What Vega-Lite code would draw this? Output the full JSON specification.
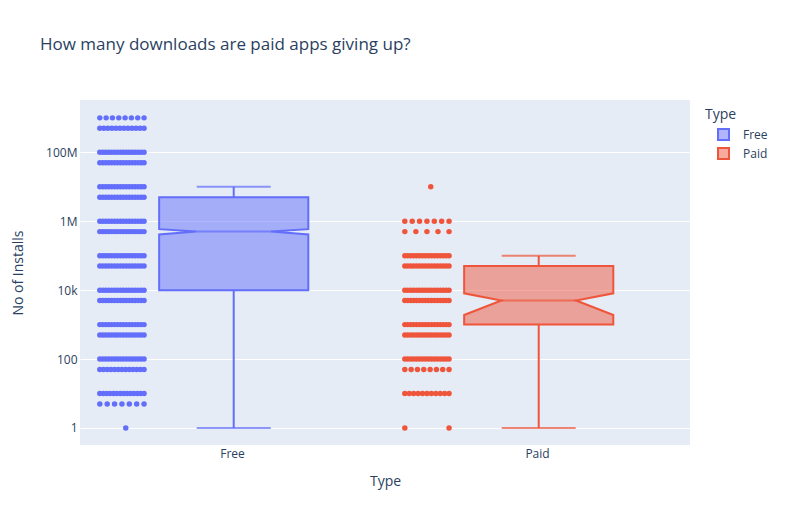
{
  "$schema": "https://vega.github.io/schema/vega-lite/v6.json",
  "width": 610,
  "height": 345,
  "autosize": {"type": "none"},
  "padding": {"left": 80, "top": 100, "right": 96, "bottom": 80},
  "background": "white",
  "title": {"text": "How many downloads are paid apps giving up?", "anchor": "start", "frame": "group", "dx": -40, "offset": 46, "fontSize": 17, "fontWeight": "normal", "color": "#2a3f5f", "font": "Open Sans"},
  "datasets": {
    "stats": [
      {"Type": "Free", "lowerfence": 1, "q1": 10000, "notchlo": 415000, "median": 500000, "notchhi": 590000, "q3": 5000000, "upperfence": 10000000},
      {"Type": "Paid", "lowerfence": 1, "q1": 1000, "notchlo": 1900, "median": 5000, "notchhi": 8100, "q3": 50000, "upperfence": 100000}
    ],
    "apps": [
      {"Type":"Free","Installs":1000000000},{"Type":"Free","Installs":1000000000},{"Type":"Free","Installs":1000000000},{"Type":"Free","Installs":1000000000},{"Type":"Free","Installs":1000000000},{"Type":"Free","Installs":1000000000},{"Type":"Free","Installs":1000000000},{"Type":"Free","Installs":1000000000},
      {"Type":"Free","Installs":500000000},{"Type":"Free","Installs":500000000},{"Type":"Free","Installs":500000000},{"Type":"Free","Installs":500000000},{"Type":"Free","Installs":500000000},{"Type":"Free","Installs":500000000},{"Type":"Free","Installs":500000000},{"Type":"Free","Installs":500000000},{"Type":"Free","Installs":500000000},{"Type":"Free","Installs":500000000},{"Type":"Free","Installs":500000000},{"Type":"Free","Installs":500000000},
      {"Type":"Free","Installs":100000000},{"Type":"Free","Installs":100000000},{"Type":"Free","Installs":100000000},{"Type":"Free","Installs":100000000},{"Type":"Free","Installs":100000000},{"Type":"Free","Installs":100000000},{"Type":"Free","Installs":100000000},{"Type":"Free","Installs":100000000},{"Type":"Free","Installs":100000000},{"Type":"Free","Installs":100000000},{"Type":"Free","Installs":100000000},{"Type":"Free","Installs":100000000},{"Type":"Free","Installs":100000000},{"Type":"Free","Installs":100000000},{"Type":"Free","Installs":100000000},{"Type":"Free","Installs":100000000},
      {"Type":"Free","Installs":50000000},{"Type":"Free","Installs":50000000},{"Type":"Free","Installs":50000000},{"Type":"Free","Installs":50000000},{"Type":"Free","Installs":50000000},{"Type":"Free","Installs":50000000},{"Type":"Free","Installs":50000000},{"Type":"Free","Installs":50000000},{"Type":"Free","Installs":50000000},{"Type":"Free","Installs":50000000},{"Type":"Free","Installs":50000000},{"Type":"Free","Installs":50000000},{"Type":"Free","Installs":50000000},{"Type":"Free","Installs":50000000},{"Type":"Free","Installs":50000000},{"Type":"Free","Installs":50000000},
      {"Type":"Free","Installs":10000000},{"Type":"Free","Installs":10000000},{"Type":"Free","Installs":10000000},{"Type":"Free","Installs":10000000},{"Type":"Free","Installs":10000000},{"Type":"Free","Installs":10000000},{"Type":"Free","Installs":10000000},{"Type":"Free","Installs":10000000},{"Type":"Free","Installs":10000000},{"Type":"Free","Installs":10000000},{"Type":"Free","Installs":10000000},{"Type":"Free","Installs":10000000},{"Type":"Free","Installs":10000000},{"Type":"Free","Installs":10000000},{"Type":"Free","Installs":10000000},{"Type":"Free","Installs":10000000},
      {"Type":"Free","Installs":5000000},{"Type":"Free","Installs":5000000},{"Type":"Free","Installs":5000000},{"Type":"Free","Installs":5000000},{"Type":"Free","Installs":5000000},{"Type":"Free","Installs":5000000},{"Type":"Free","Installs":5000000},{"Type":"Free","Installs":5000000},{"Type":"Free","Installs":5000000},{"Type":"Free","Installs":5000000},{"Type":"Free","Installs":5000000},{"Type":"Free","Installs":5000000},{"Type":"Free","Installs":5000000},{"Type":"Free","Installs":5000000},{"Type":"Free","Installs":5000000},{"Type":"Free","Installs":5000000},
      {"Type":"Free","Installs":1000000},{"Type":"Free","Installs":1000000},{"Type":"Free","Installs":1000000},{"Type":"Free","Installs":1000000},{"Type":"Free","Installs":1000000},{"Type":"Free","Installs":1000000},{"Type":"Free","Installs":1000000},{"Type":"Free","Installs":1000000},{"Type":"Free","Installs":1000000},{"Type":"Free","Installs":1000000},{"Type":"Free","Installs":1000000},{"Type":"Free","Installs":1000000},{"Type":"Free","Installs":1000000},{"Type":"Free","Installs":1000000},{"Type":"Free","Installs":1000000},{"Type":"Free","Installs":1000000},
      {"Type":"Free","Installs":500000},{"Type":"Free","Installs":500000},{"Type":"Free","Installs":500000},{"Type":"Free","Installs":500000},{"Type":"Free","Installs":500000},{"Type":"Free","Installs":500000},{"Type":"Free","Installs":500000},{"Type":"Free","Installs":500000},{"Type":"Free","Installs":500000},{"Type":"Free","Installs":500000},{"Type":"Free","Installs":500000},{"Type":"Free","Installs":500000},{"Type":"Free","Installs":500000},{"Type":"Free","Installs":500000},{"Type":"Free","Installs":500000},{"Type":"Free","Installs":500000},
      {"Type":"Free","Installs":100000},{"Type":"Free","Installs":100000},{"Type":"Free","Installs":100000},{"Type":"Free","Installs":100000},{"Type":"Free","Installs":100000},{"Type":"Free","Installs":100000},{"Type":"Free","Installs":100000},{"Type":"Free","Installs":100000},{"Type":"Free","Installs":100000},{"Type":"Free","Installs":100000},{"Type":"Free","Installs":100000},{"Type":"Free","Installs":100000},{"Type":"Free","Installs":100000},{"Type":"Free","Installs":100000},{"Type":"Free","Installs":100000},{"Type":"Free","Installs":100000},
      {"Type":"Free","Installs":50000},{"Type":"Free","Installs":50000},{"Type":"Free","Installs":50000},{"Type":"Free","Installs":50000},{"Type":"Free","Installs":50000},{"Type":"Free","Installs":50000},{"Type":"Free","Installs":50000},{"Type":"Free","Installs":50000},{"Type":"Free","Installs":50000},{"Type":"Free","Installs":50000},{"Type":"Free","Installs":50000},{"Type":"Free","Installs":50000},{"Type":"Free","Installs":50000},{"Type":"Free","Installs":50000},{"Type":"Free","Installs":50000},{"Type":"Free","Installs":50000},
      {"Type":"Free","Installs":10000},{"Type":"Free","Installs":10000},{"Type":"Free","Installs":10000},{"Type":"Free","Installs":10000},{"Type":"Free","Installs":10000},{"Type":"Free","Installs":10000},{"Type":"Free","Installs":10000},{"Type":"Free","Installs":10000},{"Type":"Free","Installs":10000},{"Type":"Free","Installs":10000},{"Type":"Free","Installs":10000},{"Type":"Free","Installs":10000},{"Type":"Free","Installs":10000},{"Type":"Free","Installs":10000},{"Type":"Free","Installs":10000},{"Type":"Free","Installs":10000},
      {"Type":"Free","Installs":5000},{"Type":"Free","Installs":5000},{"Type":"Free","Installs":5000},{"Type":"Free","Installs":5000},{"Type":"Free","Installs":5000},{"Type":"Free","Installs":5000},{"Type":"Free","Installs":5000},{"Type":"Free","Installs":5000},{"Type":"Free","Installs":5000},{"Type":"Free","Installs":5000},{"Type":"Free","Installs":5000},{"Type":"Free","Installs":5000},{"Type":"Free","Installs":5000},{"Type":"Free","Installs":5000},{"Type":"Free","Installs":5000},{"Type":"Free","Installs":5000},
      {"Type":"Free","Installs":1000},{"Type":"Free","Installs":1000},{"Type":"Free","Installs":1000},{"Type":"Free","Installs":1000},{"Type":"Free","Installs":1000},{"Type":"Free","Installs":1000},{"Type":"Free","Installs":1000},{"Type":"Free","Installs":1000},{"Type":"Free","Installs":1000},{"Type":"Free","Installs":1000},{"Type":"Free","Installs":1000},{"Type":"Free","Installs":1000},{"Type":"Free","Installs":1000},{"Type":"Free","Installs":1000},{"Type":"Free","Installs":1000},{"Type":"Free","Installs":1000},
      {"Type":"Free","Installs":500},{"Type":"Free","Installs":500},{"Type":"Free","Installs":500},{"Type":"Free","Installs":500},{"Type":"Free","Installs":500},{"Type":"Free","Installs":500},{"Type":"Free","Installs":500},{"Type":"Free","Installs":500},{"Type":"Free","Installs":500},{"Type":"Free","Installs":500},{"Type":"Free","Installs":500},{"Type":"Free","Installs":500},{"Type":"Free","Installs":500},{"Type":"Free","Installs":500},{"Type":"Free","Installs":500},{"Type":"Free","Installs":500},
      {"Type":"Free","Installs":100},{"Type":"Free","Installs":100},{"Type":"Free","Installs":100},{"Type":"Free","Installs":100},{"Type":"Free","Installs":100},{"Type":"Free","Installs":100},{"Type":"Free","Installs":100},{"Type":"Free","Installs":100},{"Type":"Free","Installs":100},{"Type":"Free","Installs":100},{"Type":"Free","Installs":100},{"Type":"Free","Installs":100},{"Type":"Free","Installs":100},{"Type":"Free","Installs":100},{"Type":"Free","Installs":100},{"Type":"Free","Installs":100},
      {"Type":"Free","Installs":50},{"Type":"Free","Installs":50},{"Type":"Free","Installs":50},{"Type":"Free","Installs":50},{"Type":"Free","Installs":50},{"Type":"Free","Installs":50},{"Type":"Free","Installs":50},{"Type":"Free","Installs":50},{"Type":"Free","Installs":50},{"Type":"Free","Installs":50},{"Type":"Free","Installs":50},{"Type":"Free","Installs":50},{"Type":"Free","Installs":50},
      {"Type":"Free","Installs":10},{"Type":"Free","Installs":10},{"Type":"Free","Installs":10},{"Type":"Free","Installs":10},{"Type":"Free","Installs":10},{"Type":"Free","Installs":10},{"Type":"Free","Installs":10},{"Type":"Free","Installs":10},{"Type":"Free","Installs":10},{"Type":"Free","Installs":10},{"Type":"Free","Installs":10},{"Type":"Free","Installs":10},{"Type":"Free","Installs":10},{"Type":"Free","Installs":10},
      {"Type":"Free","Installs":5},{"Type":"Free","Installs":5},{"Type":"Free","Installs":5},{"Type":"Free","Installs":5},{"Type":"Free","Installs":5},{"Type":"Free","Installs":5},{"Type":"Free","Installs":5},
      {"Type":"Free","Installs":1},
      {"Type":"Paid","Installs":10000000},
      {"Type":"Paid","Installs":1000000},{"Type":"Paid","Installs":1000000},{"Type":"Paid","Installs":1000000},{"Type":"Paid","Installs":1000000},{"Type":"Paid","Installs":1000000},{"Type":"Paid","Installs":1000000},{"Type":"Paid","Installs":1000000},
      {"Type":"Paid","Installs":500000},{"Type":"Paid","Installs":500000},{"Type":"Paid","Installs":500000},{"Type":"Paid","Installs":500000},{"Type":"Paid","Installs":500000},
      {"Type":"Paid","Installs":100000},{"Type":"Paid","Installs":100000},{"Type":"Paid","Installs":100000},{"Type":"Paid","Installs":100000},{"Type":"Paid","Installs":100000},{"Type":"Paid","Installs":100000},{"Type":"Paid","Installs":100000},{"Type":"Paid","Installs":100000},{"Type":"Paid","Installs":100000},{"Type":"Paid","Installs":100000},{"Type":"Paid","Installs":100000},{"Type":"Paid","Installs":100000},{"Type":"Paid","Installs":100000},{"Type":"Paid","Installs":100000},{"Type":"Paid","Installs":100000},{"Type":"Paid","Installs":100000},
      {"Type":"Paid","Installs":50000},{"Type":"Paid","Installs":50000},{"Type":"Paid","Installs":50000},{"Type":"Paid","Installs":50000},{"Type":"Paid","Installs":50000},{"Type":"Paid","Installs":50000},{"Type":"Paid","Installs":50000},{"Type":"Paid","Installs":50000},{"Type":"Paid","Installs":50000},{"Type":"Paid","Installs":50000},{"Type":"Paid","Installs":50000},{"Type":"Paid","Installs":50000},{"Type":"Paid","Installs":50000},{"Type":"Paid","Installs":50000},{"Type":"Paid","Installs":50000},{"Type":"Paid","Installs":50000},
      {"Type":"Paid","Installs":10000},{"Type":"Paid","Installs":10000},{"Type":"Paid","Installs":10000},{"Type":"Paid","Installs":10000},{"Type":"Paid","Installs":10000},{"Type":"Paid","Installs":10000},{"Type":"Paid","Installs":10000},{"Type":"Paid","Installs":10000},{"Type":"Paid","Installs":10000},{"Type":"Paid","Installs":10000},{"Type":"Paid","Installs":10000},{"Type":"Paid","Installs":10000},{"Type":"Paid","Installs":10000},{"Type":"Paid","Installs":10000},{"Type":"Paid","Installs":10000},{"Type":"Paid","Installs":10000},
      {"Type":"Paid","Installs":5000},{"Type":"Paid","Installs":5000},{"Type":"Paid","Installs":5000},{"Type":"Paid","Installs":5000},{"Type":"Paid","Installs":5000},{"Type":"Paid","Installs":5000},{"Type":"Paid","Installs":5000},{"Type":"Paid","Installs":5000},{"Type":"Paid","Installs":5000},{"Type":"Paid","Installs":5000},{"Type":"Paid","Installs":5000},{"Type":"Paid","Installs":5000},{"Type":"Paid","Installs":5000},{"Type":"Paid","Installs":5000},{"Type":"Paid","Installs":5000},{"Type":"Paid","Installs":5000},
      {"Type":"Paid","Installs":1000},{"Type":"Paid","Installs":1000},{"Type":"Paid","Installs":1000},{"Type":"Paid","Installs":1000},{"Type":"Paid","Installs":1000},{"Type":"Paid","Installs":1000},{"Type":"Paid","Installs":1000},{"Type":"Paid","Installs":1000},{"Type":"Paid","Installs":1000},{"Type":"Paid","Installs":1000},{"Type":"Paid","Installs":1000},{"Type":"Paid","Installs":1000},{"Type":"Paid","Installs":1000},{"Type":"Paid","Installs":1000},{"Type":"Paid","Installs":1000},{"Type":"Paid","Installs":1000},
      {"Type":"Paid","Installs":500},{"Type":"Paid","Installs":500},{"Type":"Paid","Installs":500},{"Type":"Paid","Installs":500},{"Type":"Paid","Installs":500},{"Type":"Paid","Installs":500},{"Type":"Paid","Installs":500},{"Type":"Paid","Installs":500},{"Type":"Paid","Installs":500},{"Type":"Paid","Installs":500},{"Type":"Paid","Installs":500},{"Type":"Paid","Installs":500},{"Type":"Paid","Installs":500},{"Type":"Paid","Installs":500},{"Type":"Paid","Installs":500},{"Type":"Paid","Installs":500},
      {"Type":"Paid","Installs":100},{"Type":"Paid","Installs":100},{"Type":"Paid","Installs":100},{"Type":"Paid","Installs":100},{"Type":"Paid","Installs":100},{"Type":"Paid","Installs":100},{"Type":"Paid","Installs":100},{"Type":"Paid","Installs":100},{"Type":"Paid","Installs":100},{"Type":"Paid","Installs":100},{"Type":"Paid","Installs":100},{"Type":"Paid","Installs":100},{"Type":"Paid","Installs":100},{"Type":"Paid","Installs":100},{"Type":"Paid","Installs":100},{"Type":"Paid","Installs":100},
      {"Type":"Paid","Installs":50},{"Type":"Paid","Installs":50},{"Type":"Paid","Installs":50},{"Type":"Paid","Installs":50},{"Type":"Paid","Installs":50},{"Type":"Paid","Installs":50},{"Type":"Paid","Installs":50},{"Type":"Paid","Installs":50},
      {"Type":"Paid","Installs":10},{"Type":"Paid","Installs":10},{"Type":"Paid","Installs":10},{"Type":"Paid","Installs":10},{"Type":"Paid","Installs":10},{"Type":"Paid","Installs":10},{"Type":"Paid","Installs":10},{"Type":"Paid","Installs":10},{"Type":"Paid","Installs":10},{"Type":"Paid","Installs":10},{"Type":"Paid","Installs":10},
      {"Type":"Paid","Installs":1},{"Type":"Paid","Installs":1}
    ]
  },
  "encoding": {
    "x": {"field": "Type", "type": "nominal", "title": "Type",
      "scale": {"type": "band", "domain": ["Free", "Paid"], "paddingInner": 0, "paddingOuter": 0},
      "axis": {"labelAngle": 0, "grid": false, "labelPadding": 3, "titlePadding": 15}}
  },
  "layer": [
    {
      "data": {"name": "apps"},
      "transform": [
        {"window": [{"op": "row_number", "as": "r"}], "groupby": ["Type", "Installs"]},
        {"joinaggregate": [{"op": "count", "as": "n"}], "groupby": ["Type", "Installs"]},
        {"calculate": "datum.n > 1 ? -0.87 + 0.29 * (datum.r - 1) / (datum.n - 1) : -0.7", "as": "jit"}
      ],
      "mark": {"type": "point", "filled": true, "size": 30, "opacity": 1},
      "encoding": {
        "xOffset": {"field": "jit", "type": "quantitative", "scale": {"domain": [-1, 1]}},
        "y": {"field": "Installs", "type": "quantitative", "title": "No of Installs",
          "scale": {"type": "log", "domain": [0.321, 3300000000], "nice": false},
          "axis": {"values": [1, 100, 10000, 1000000, 100000000], "format": "~s", "grid": true, "labelPadding": 3, "titlePadding": 20}},
        "fill": {"field": "Type", "type": "nominal", "scale": {"domain": ["Free", "Paid"], "range": ["#636efa", "#EF553B"]}}
      }
    },
    {
      "data": {"name": "stats"},
      "mark": {"type": "rule", "strokeWidth": 2},
      "encoding": {
        "xOffset": {"datum": 0.008, "type": "quantitative", "scale": {"domain": [-1, 1]}},
        "y": {"field": "lowerfence", "type": "quantitative"},
        "y2": {"field": "q1"},
        "stroke": {"field": "Type", "type": "nominal", "scale": {"domain": ["Free", "Paid"], "range": ["#636efa", "#EF553B"]}}
      }
    },
    {
      "data": {"name": "stats"},
      "mark": {"type": "rule", "strokeWidth": 2},
      "encoding": {
        "xOffset": {"datum": 0.008, "type": "quantitative", "scale": {"domain": [-1, 1]}},
        "y": {"field": "q3", "type": "quantitative"},
        "y2": {"field": "upperfence"},
        "stroke": {"field": "Type", "type": "nominal", "scale": {"domain": ["Free", "Paid"], "range": ["#636efa", "#EF553B"]}}
      }
    },
    {
      "data": {"name": "stats"},
      "transform": [{"fold": ["lowerfence", "upperfence"], "as": ["fence", "Installs"]}],
      "mark": {"type": "tick", "size": 74, "thickness": 2, "orient": "horizontal"},
      "encoding": {
        "xOffset": {"datum": 0.008, "type": "quantitative", "scale": {"domain": [-1, 1]}},
        "y": {"field": "Installs", "type": "quantitative"},
        "fill": {"field": "Type", "type": "nominal", "scale": {"domain": ["Free", "Paid"], "range": ["#636efa", "#EF553B"]}}
      }
    },
    {
      "data": {"name": "stats"},
      "transform": [
        {"fold": ["q1", "notchlo", "median", "notchhi", "q3"], "as": ["stat", "Installs"]},
        {"calculate": "indexof(['q1','notchlo','median','notchhi','q3'], datum.stat)", "as": "k"},
        {"calculate": "datum.stat === 'median' ? -0.237 : -0.481", "as": "left"},
        {"calculate": "0.016 - datum.left", "as": "right"},
        {"fold": ["left", "right"], "as": ["side", "off"]},
        {"calculate": "datum.side === 'left' ? datum.k : 9 - datum.k", "as": "ord"}
      ],
      "mark": {"type": "line", "interpolate": "linear-closed", "strokeWidth": 2, "fillOpacity": 0.5, "strokeJoin": "miter"},
      "encoding": {
        "xOffset": {"field": "off", "type": "quantitative", "scale": {"domain": [-1, 1]}},
        "y": {"field": "Installs", "type": "quantitative"},
        "order": {"field": "ord", "type": "quantitative"},
        "fill": {"field": "Type", "type": "nominal", "scale": {"domain": ["Free", "Paid"], "range": ["#636efa", "#EF553B"]},
          "legend": {"title": "Type", "orient": "none", "legendX": 625, "legendY": 8, "symbolType": "square", "symbolSize": 121, "symbolStrokeWidth": 2, "rowPadding": 0, "titlePadding": 6, "symbolOffset": 12, "labelOffset": 13,
            "encode": {"symbols": {"update": {"stroke": {"scale": "stroke", "field": "value"}, "strokeWidth": {"value": 2}, "fillOpacity": {"value": 0.5}, "opacity": {"value": 1}}}}}},
        "stroke": {"field": "Type", "type": "nominal", "scale": {"domain": ["Free", "Paid"], "range": ["#636efa", "#EF553B"]},
          "legend": {"title": "Type", "orient": "none", "legendX": 625, "legendY": 8, "symbolType": "square", "symbolSize": 121, "symbolStrokeWidth": 2, "rowPadding": 0, "titlePadding": 6, "symbolOffset": 12, "labelOffset": 13}}
      }
    },
    {
      "data": {"name": "stats"},
      "mark": {"type": "tick", "size": 75, "thickness": 2, "orient": "horizontal"},
      "encoding": {
        "xOffset": {"datum": 0.008, "type": "quantitative", "scale": {"domain": [-1, 1]}},
        "y": {"field": "median", "type": "quantitative"},
        "fill": {"field": "Type", "type": "nominal", "scale": {"domain": ["Free", "Paid"], "range": ["#636efa", "#EF553B"]}}
      }
    }
  ],
  "config": {
    "font": "Open Sans",
    "view": {"fill": "#E5ECF6", "stroke": null},
    "axis": {"labelColor": "#2a3f5f", "titleColor": "#2a3f5f", "labelFontSize": 12, "titleFontSize": 14, "titleFontWeight": "normal", "domain": false, "ticks": false, "tickSize": 0, "gridColor": "white", "gridWidth": 1, "labelFont": "Open Sans", "titleFont": "Open Sans"},
    "legend": {"titleFontSize": 14, "titleFontWeight": "normal", "titleColor": "#2a3f5f", "labelFontSize": 12, "labelColor": "#2a3f5f", "titleFont": "Open Sans", "labelFont": "Open Sans"}
  }
}
